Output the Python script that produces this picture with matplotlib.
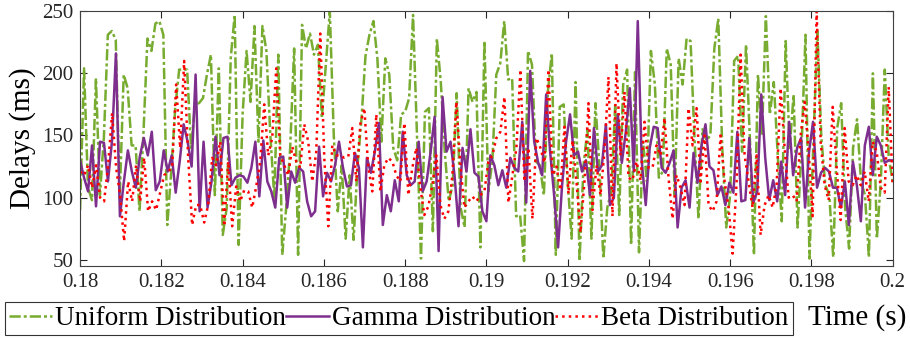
import numpy as np
import matplotlib.pyplot as plt

plt.rcParams['font.family'] = ['Liberation Serif', 'DejaVu Serif']

# values (ms), left to right
uniform = [90, 204, 108, 98, 196, 102, 148, 231, 234, 227, 100, 199, 188, 142, 142, 89, 153, 228,
           218, 240, 242, 231, 78, 121, 172, 203, 203, 203, 140,
           175, 176, 180, 199, 215, 102, 204, 70, 92, 212, 247, 62, 167, 218, 177, 238, 145, 238,
           218, 150, 100, 215, 54, 92, 140, 220, 54, 239, 220,
           232, 215, 223, 164, 207, 250, 150, 89, 126, 67, 118, 66, 126, 164, 214, 231, 242, 212,
           145, 212, 199, 140, 130, 167, 169, 180, 247, 148, 51, 169,
           172, 73, 228, 193, 137, 97, 110, 184, 92, 76, 188, 177, 185, 60, 226, 105, 129, 199,
           208, 242, 195, 196, 85, 86, 49, 218, 207, 129, 126,
           102, 185, 216, 54, 173, 175, 113, 67, 193, 49, 126, 155, 67, 176, 126, 51, 92, 105,
           175, 86, 191, 203, 62, 201, 56, 145, 113, 218, 191,
           116, 121, 220, 207, 102, 212, 191, 228, 226, 148, 83, 155, 146, 150, 220, 244, 140, 76,
           102, 210, 214, 137, 223, 145, 54, 199, 150, 246, 167, 193,
           134, 81, 226, 140, 183, 76, 140, 231, 51, 145, 234, 148, 110, 102, 52, 156, 176, 92,
           59, 140, 163, 113, 102, 52, 200, 67, 113, 203, 132, 113]

gamma = [130, 116, 105, 142, 93, 145, 144, 113, 145, 216, 85, 113, 138, 121, 108, 133, 148, 134,
         153, 106, 113, 138, 121, 134, 104, 129, 159, 145, 125,
         199, 89, 145, 92, 113, 149, 118, 148, 149, 110, 116, 118, 117, 112, 124, 145, 101, 146,
         113, 105, 92, 132, 133, 92, 121, 112, 124, 121,
         97, 85, 89, 141, 101, 120, 113, 126, 145, 124, 109, 110, 136, 124, 60, 132, 120, 137,
         160, 78, 102, 89, 114, 97, 153, 118, 110, 113, 145, 105,
         113, 137, 165, 57, 181, 137, 145, 118, 77, 140, 121, 155, 120, 117, 89, 81, 134, 126,
         110, 122, 108, 132, 124, 121, 161, 96, 202, 145, 128,
         118, 183, 137, 102, 60, 110, 145, 167, 134, 137, 121, 130, 102, 156, 121, 126, 159, 94,
         100, 167, 128, 153, 188, 121, 242, 129, 94, 140, 157,
         156, 124, 120, 128, 138, 76, 108, 114, 92, 136, 112, 142, 159, 125, 122, 102, 109, 94,
         112, 104, 153, 97, 98, 148, 96, 105, 183, 132, 98,
         114, 97, 129, 102, 161, 118, 140, 148, 92, 137, 161, 108, 120, 124, 121, 108, 108, 92,
         113, 78, 129, 110, 81, 142, 157, 118, 149, 142, 128, 130, 130]

beta = [121, 118, 126, 108, 126, 100, 97, 126, 168, 124, 102, 65, 113, 97, 126, 97, 132, 89, 97,
        90, 104, 118, 121, 124, 191, 140, 210, 132, 78,
        94, 94, 80, 94, 132, 126, 145, 77, 129, 77, 109, 97, 106, 105, 92, 109, 129, 175, 134,
        148, 204, 134, 126, 118, 141, 129, 124, 159,
        145, 113, 137, 232, 132, 77, 142, 134, 134, 132, 133, 156, 113, 159, 172, 124, 105, 167,
        105, 126, 132, 129, 118, 113, 160, 102, 124, 140, 108, 86,
        93, 110, 134, 94, 83, 89, 118, 177, 126, 92, 97, 101, 97, 102, 105, 129, 134, 148, 153,
        181, 96, 118, 140, 203, 113, 140, 83, 148,
        140, 128, 203, 118, 125, 106, 157, 103, 146, 113, 72, 113, 176, 90, 126, 102, 137, 197,
        85, 208, 134, 185, 116, 114, 129, 114, 161, 124, 124,
        142, 134, 164, 116, 83, 118, 108, 94, 172, 142, 172, 113, 150, 94, 89, 97, 150, 113, 92,
        55, 112, 215, 134, 113, 92, 134, 70, 94, 102,
        92, 110, 188, 140, 100, 102, 97, 150, 177, 137, 85, 250, 145, 110, 98, 173, 124, 82, 156,
        113, 110, 118, 110, 121, 97, 145, 137, 108, 104, 189, 109]

x_ticks = [0.18, 0.182, 0.184, 0.186, 0.188, 0.19, 0.192, 0.194, 0.196, 0.198, 0.2]
x_labels = ['0.18', '0.182', '0.184', '0.186', '0.188', '0.19', '0.192', '0.194', '0.196', '0.198', '0.2']
y_ticks = [50, 100, 150, 200, 250]

fig = plt.figure(figsize=(9.1, 3.38), dpi=100)
ax = fig.add_axes([0.088, 0.213, 0.893, 0.754])

t_u = np.linspace(0.18, 0.2, len(uniform))
t_g = np.linspace(0.18, 0.2, len(gamma))
t_b = np.linspace(0.18, 0.2, len(beta))

l1, = ax.plot(t_u, uniform, color='#77AC30', ls='-.', lw=1.8, dashes=(4.5, 1.2, 1.2, 1.2))
l2, = ax.plot(t_g, gamma, color='#7E2F8E', ls='-', lw=1.8)
l3, = ax.plot(t_b, beta, color='#FF0000', ls=':', lw=1.8)

ax.set_xlim(0.18, 0.2)
ax.set_ylim(45, 250)
ax.set_xticks(x_ticks)
ax.set_xticklabels(x_labels)
ax.set_yticks(y_ticks)
ax.tick_params(direction='in', top=True, right=True, labelsize=15, length=5,
               width=0.8, pad=5, colors='#262626')
for s in ax.spines.values():
    s.set_color('#404040')
    s.set_linewidth(0.8)
ax.set_ylabel('Delays (ms)', fontsize=21, labelpad=4)

leg = fig.legend([l1, l2, l3], ['Uniform Distribution', 'Gamma Distribution', 'Beta Distribution'],
                 ncol=3, loc='lower left', bbox_to_anchor=(0.005, 0.008), fontsize=19.5,
                 frameon=True, fancybox=False, edgecolor='black', handlelength=1.6,
                 handletextpad=0.1, columnspacing=0.0, borderpad=0.15, borderaxespad=0.0)
leg.get_frame().set_linewidth(0.8)

fig.text(0.942, 0.06, 'Time (s)', fontsize=21, ha='center', va='center')

fig.savefig('out.png', dpi=100)
